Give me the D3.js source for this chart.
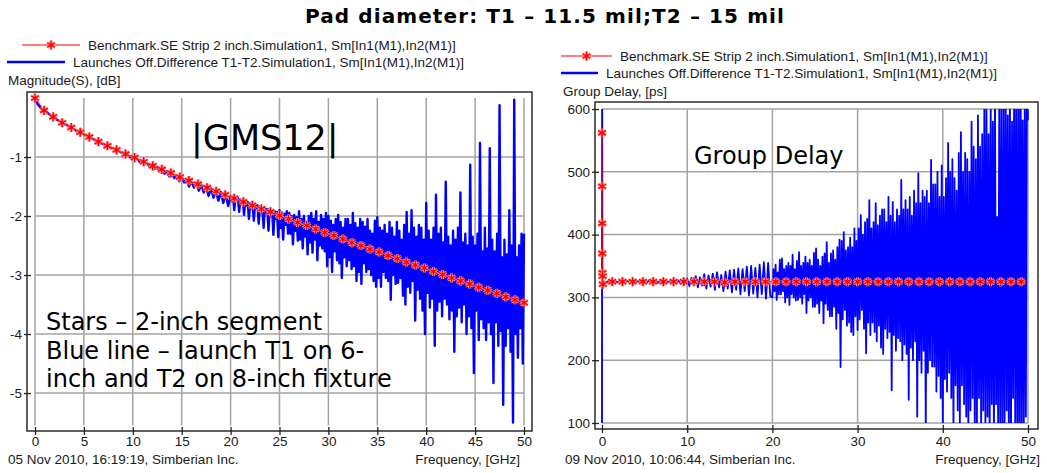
<!DOCTYPE html>
<html>
<head>
<meta charset="utf-8">
<script src="https://cdn.jsdelivr.net/npm/d3@7"></script>
<style>
  body { margin: 0; background: #fff; }
  text { font-family: "Liberation Sans", Arial, sans-serif; font-size: 13.5px; fill: #1a1a1a; }
  text.big { font-family: "DejaVu Sans", Verdana, sans-serif; fill: #000; }
  .axis .domain { display: none; }
  .axis line { stroke: #222; stroke-width: 1.3; }
</style>
</head>
<body>
<div id="app"></div>
<script>
// Left panel: |S21| magnitude, dB
const magTicksX = [0, 5, 10, 15, 20, 25, 30, 35, 40, 45, 50];
const magTicksY = [-1, -2, -3, -4, -5];
const magStarStep = 50 / 54; // GHz between benchmark stars
const magStars = [
  0, -0.21, -0.32, -0.42, -0.50, -0.58, -0.66, -0.74, -0.81, -0.88,
  -0.95, -1.01, -1.08, -1.15, -1.21, -1.27, -1.34, -1.40, -1.46, -1.52,
  -1.58, -1.64, -1.70, -1.76, -1.82, -1.88, -1.93, -1.99, -2.05, -2.11,
  -2.16, -2.22, -2.28, -2.33, -2.39, -2.45, -2.50, -2.56, -2.61, -2.67,
  -2.72, -2.78, -2.83, -2.88, -2.94, -2.99, -3.05, -3.10, -3.15, -3.21,
  -3.26, -3.31, -3.37, -3.42, -3.47
];
// launch difference, 0..19.75 GHz every 0.25 GHz
const magBlueLowStep = 0.25;
const magBlueLow = [
  0, -0.10, -0.15, -0.19,   -0.22, -0.25, -0.28, -0.31,   -0.34, -0.37, -0.39, -0.42,
  -0.44, -0.46, -0.49, -0.51,   -0.53, -0.56, -0.57, -0.59,   -0.61, -0.64, -0.66, -0.68,
  -0.70, -0.73, -0.74, -0.77,   -0.78, -0.81, -0.82, -0.85,   -0.85, -0.89, -0.89, -0.92,
  -0.93, -0.97, -0.97, -1.01,   -1.00, -1.04, -1.04, -1.09,   -1.07, -1.11, -1.11, -1.17,
  -1.14, -1.20, -1.17, -1.24,   -1.21, -1.28, -1.24, -1.33,   -1.28, -1.36, -1.31, -1.41,
  -1.34, -1.43, -1.38, -1.50,   -1.41, -1.52, -1.44, -1.57,   -1.47, -1.60, -1.51, -1.66,
  -1.53, -1.69, -1.57, -1.74,   -1.59, -1.78, -1.63, -1.83
];
// launch difference, 20..50 GHz every 0.125 GHz
const magBlueHighStart = 20;
const magBlueHighStep = 0.125;
const magBlueHigh = [
  -1.66, -1.75, -1.67, -1.90, -1.69, -1.72, -1.70, -1.93,
  -1.72, -1.80, -1.73, -1.98, -1.75, -1.82, -1.76, -2.05,
  -1.78, -1.88, -1.79, -2.08, -1.80, -1.86, -1.82, -2.13,
  -1.84, -1.95, -1.85, -2.20, -1.86, -1.94, -1.88, -2.25,
  -1.88, -2.00, -1.90, -2.32, -1.92, -2.05, -1.93, -2.36,
  -1.90, -2.20, -1.94, -2.40, -1.96, -2.15, -1.92, -2.30,
  -1.95, -2.30, -2.00, -2.48, -1.98, -2.25, -2.02, -2.42,
  -1.92, -2.40, -2.05, -2.55, -2.00, -2.35, -2.10, -2.65,
  -2.00, -2.45, -1.95, -2.62, -2.05, -2.40, -1.92, -2.75,
  -2.10, -2.50, -1.98, -2.55, -2.05, -2.60, -1.95, -2.85,
  -2.00, -2.70, -2.08, -2.95, -2.15, -2.60, -2.05, -2.75,
  -1.98, -2.80, -2.10, -3.05, -2.20, -2.70, -2.05, -2.85,
  -2.05, -2.75, -2.15, -2.90, -1.95, -2.85, -2.12, -3.10,
  -2.20, -2.95, -2.05, -3.15, -2.10, -2.80, -2.18, -2.95,
  -2.05, -2.90, -2.25, -3.00, -2.30, -3.10, -2.08, -3.20,
  -2.02, -3.05, -2.20, -3.20, -2.25, -2.95, -2.15, -3.05,
  -2.30, -3.10, -2.10, -3.42, -2.20, -3.00, -2.35, -3.15,
  -2.10, -3.13, -2.25, -3.05, -2.40, -3.35, -2.15, -3.50,
  -1.93, -3.20, -2.30, -3.30, -1.90, -3.10, -2.20, -3.77,
  -2.35, -3.25, -2.15, -3.40, -2.20, -3.60, -2.40, -4.00,
  -1.78, -3.30, -2.25, -3.55, -2.40, -3.40, -2.20, -4.20,
  -1.64, -3.60, -2.30, -3.45, -2.20, -3.70, -2.45, -3.40,
  -1.42, -3.50, -2.35, -3.75, -2.50, -3.60, -2.25, -4.30,
  -2.40, -3.70, -2.20, -3.55, -1.60, -3.80, -2.45, -3.50,
  -2.30, -4.00, -2.50, -3.70, -1.13, -3.90, -2.35, -4.66,
  -2.50, -3.60, -2.30, -4.10, -0.76, -3.75, -2.60, -3.90,
  -2.20, -4.10, -2.55, -3.80, -0.85, -4.00, -2.40, -4.83,
  -2.60, -3.80, -2.30, -4.20, -0.12, -3.95, -2.70, -5.20,
  -2.40, -4.20, -2.65, -3.90, -1.90, -4.30, -2.50, -5.50,
  -0.03, -4.00, -2.70, -4.40, -2.50, -3.90, -2.30, -4.50,
  -2.30
];

// Right panel: group delay, ps
const gdTicksX = [0, 10, 20, 30, 40, 50];
const gdTicksY = [100, 200, 300, 400, 500, 600];
const gdStarFreq = [
  0, 0.01, 0.02, 0.03, 0.05, 0.07, 0.1,
  1.2, 2.4, 3.6, 4.8, 6, 7.2, 8.4, 9.6, 10.8, 12, 13.2, 14.4, 15.6, 16.8,
  18, 19.2, 20.4, 21.6, 22.8, 24, 25.2, 26.4, 27.6, 28.8, 30, 31.2, 32.4,
  33.6, 34.8, 36, 37.2, 38.4, 39.6, 40.8, 42, 43.2, 44.4, 45.6, 46.8, 48, 49.2
];
const gdStars = [
  562, 477, 418, 370, 339, 334, 321,
  325, 325, 325, 325, 325, 325, 325, 325, 325, 325, 325, 324, 325, 325,
  325, 325, 325, 325, 325, 325, 325, 325, 325, 325, 325, 325, 325,
  325, 325, 325, 325, 325, 325, 325, 325, 325, 325, 325, 325, 325, 325
];
const gdSpikeFreq = [0, 0.02, 0.05];
const gdSpike = [60, 640, 325];
// launch difference, 0.25..19.75 GHz every 0.25 GHz
const gdBlueLowStart = 0.25;
const gdBlueLowStep = 0.25;
const gdBlueLow = [
  325, 324, 326, 325,   325, 326, 324, 325,   326, 324, 325, 326,   324, 326, 325, 324,
  326, 323, 326, 325,   323, 327, 324, 326,   327, 323, 326, 324,   322, 328, 324, 327,
  323, 328, 322, 327,   321, 329, 323, 330,   318, 331, 320, 334,   316, 332, 319, 337,
  314, 335, 317, 338,   312, 340, 316, 336,   310, 341, 314, 343,   308, 344, 312, 346,
  305, 345, 310, 349,   303, 350, 306, 347,   300, 352, 305, 356,   298, 355, 302
];
// launch difference, 20..50 GHz every 0.125 GHz
const gdBlueHighStart = 20;
const gdBlueHighStep = 0.125;
const gdBlueHigh = [
  300, 345, 310, 352, 296, 340, 305, 360,
  305, 362, 310, 345, 292, 350, 300, 355,
  288, 350, 305, 368, 300, 345, 295, 358,
  296, 372, 300, 350, 290, 355, 305, 365,
  275, 355, 295, 360, 300, 350, 285, 371,
  285, 378, 290, 360, 275, 350, 295, 365,
  259, 370, 290, 388, 280, 355, 270, 370,
  270, 375, 285, 360, 250, 380, 275, 392,
  189, 390, 265, 404, 280, 375, 255, 380,
  260, 395, 245, 380, 240, 410, 270, 390,
  248, 410, 265, 431, 280, 400, 250, 420,
  211, 425, 260, 455, 240, 410, 260, 420,
  245, 450, 230, 415, 255, 430, 220, 440,
  210, 440, 250, 420, 235, 460, 245, 430,
  152, 452, 240, 420, 215, 440, 235, 430,
  230, 487, 200, 440, 225, 455, 210, 440,
  137, 460, 220, 430, 200, 470, 230, 450,
  110, 498, 200, 450, 180, 470, 215, 460,
  90, 470, 180, 450, 200, 519, 190, 480,
  190, 480, 150, 500, 175, 460, 140, 510,
  85, 460, 170, 490, 150, 546, 180, 500,
  140, 520, 90, 490, 160, 470, 120, 530,
  95, 563, 160, 500, 130, 530, 110, 520,
  80, 500, 120, 580, 140, 540, 100, 520,
  70, 590, 140, 540, 90, 560, 120, 600,
  90, 620, 110, 560, 70, 610, 130, 580,
  60, 640, 130, 428, 80, 620, 100, 600,
  75, 610, 85, 650, 120, 590, 60, 640,
  50, 580, 140, 660, 90, 620, 70, 610,
  40, 700, 90, 582, 60, 640, 110, 650,
  582
];

const svg = d3.select('#app').append('svg').attr('width', 1047).attr('height', 473);

svg.append('text')
  .attr('class', 'big')
  .attr('x', 545).attr('y', 23)
  .attr('text-anchor', 'middle')
  .attr('font-weight', 'bold')
  .style('font-size', '20px')
  .style('letter-spacing', '1.1px')
  .text('Pad diameter: T1 \u2013 11.5 mil;T2 \u2013 15 mil');

const starPath = d3.symbol(d3.symbolAsterisk, 58)();

function drawStars(g, pts) {
  const s = g.selectAll('g.star').data(pts).join('g')
    .attr('class', 'star')
    .attr('transform', (d) => `translate(${d[0]},${d[1]})`);
  s.append('path').attr('d', starPath).attr('fill', 'none')
    .attr('stroke', '#ff8c8c').attr('stroke-width', 3);
  s.append('path').attr('d', starPath).attr('fill', 'none')
    .attr('stroke', 'red').attr('stroke-width', 1.3);
  s.append('circle').attr('r', 1.6).attr('fill', 'red');
}

function legend(x, y, redX, blueX, yLabel) {
  const g = svg.append('g');
  const names = [
    'Benchmark.SE Strip 2 inch.Simulation1, Sm[In1(M1),In2(M1)]',
    'Launches Off.Difference T1-T2.Simulation1, Sm[In1(M1),In2(M1)]'
  ];
  g.append('line').attr('x1', redX[0]).attr('x2', redX[1])
    .attr('y1', y).attr('y2', y).attr('stroke', 'red').attr('stroke-width', 1.2);
  drawStars(g.append('g'), [[(redX[0] + redX[1]) / 2, y]]);
  g.append('text').attr('x', redX[1] + 8).attr('y', y + 4.5).text(names[0]);
  g.append('line').attr('x1', blueX[0]).attr('x2', blueX[1])
    .attr('y1', y + 17).attr('y2', y + 17).attr('stroke', 'blue').attr('stroke-width', 2.5);
  g.append('text').attr('x', blueX[1] + 8).attr('y', y + 21.5).text(names[1]);
  g.append('text').attr('x', x).attr('y', y + 39.5).text(yLabel);
}

function panel(o) {
  const g = svg.append('g');
  const [x0, x1] = o.x.range();
  const [y0, y1] = o.y.range();
  const f = o.frame;

  // grid
  g.append('g').selectAll('line').data(o.ticksX).join('line')
    .attr('x1', (d) => o.x(d)).attr('x2', (d) => o.x(d))
    .attr('y1', y0).attr('y2', y1)
    .attr('stroke', '#a3a3a3').attr('stroke-width', 1.5);
  g.append('g').selectAll('line').data(o.gridY).join('line')
    .attr('x1', x0).attr('x2', x1)
    .attr('y1', (d) => o.y(d)).attr('y2', (d) => o.y(d))
    .attr('stroke', '#a3a3a3').attr('stroke-width', 1.5);

  // annotations
  o.notes.forEach((n) => {
    g.append('text').attr('class', 'big')
      .attr('x', n.x).attr('y', n.y)
      .style('font-size', n.size + 'px')
      .text(n.text);
  });

  // data
  const clipId = 'clip' + o.id;
  svg.append('clipPath').attr('id', clipId).append('rect')
    .attr('x', f.x0 + 1).attr('y', o.clipY[0])
    .attr('width', f.x1 - f.x0 - 2).attr('height', o.clipY[1] - o.clipY[0]);
  const data = g.append('g').attr('clip-path', `url(#${clipId})`);
  const line = d3.line().x((d) => o.x(d[0])).y((d) => o.y(d[1]));

  data.append('path').datum(o.blue).attr('d', line)
    .attr('fill', 'none').attr('stroke', 'blue')
    .attr('stroke-width', o.blueWidth).attr('stroke-linejoin', 'round');
  data.append('path').datum(o.stars).attr('d', line)
    .attr('fill', 'none').attr('stroke', 'red').attr('stroke-width', 1);
  drawStars(data.append('g'), o.stars.map((d) => [o.x(d[0]), o.y(d[1])]));

  // frame
  g.append('rect')
    .attr('x', f.x0).attr('y', f.y0)
    .attr('width', f.x1 - f.x0).attr('height', f.y1 - f.y0)
    .attr('fill', 'none').attr('stroke', '#2b2b2b').attr('stroke-width', 1.5);

  // axes
  const ax = g.append('g').attr('class', 'axis')
    .attr('transform', `translate(0,${f.y1 - 4})`)
    .call(d3.axisBottom(o.x).tickValues(o.ticksX).tickSize(8).tickPadding(o.padX)
      .tickFormat((d) => String(d)));
  ax.attr('font-size', null).attr('font-family', null);
  const ay = g.append('g').attr('class', 'axis')
    .attr('transform', `translate(${f.x0 + 4},0)`)
    .call(d3.axisLeft(o.y).tickValues(o.ticksY).tickSize(7).tickPadding(2)
      .tickFormat((d) => String(d)));
  ay.attr('font-size', null).attr('font-family', null);

  // footer
  g.append('text').attr('x', o.stampX).attr('y', 464).text(o.stamp);
  g.append('text').attr('x', o.unitEnd).attr('y', 464)
    .attr('text-anchor', 'end').text('Frequency, [GHz]');
}

// left panel
const xL = d3.scaleLinear().domain([0, 50]).range([35, 524]);
const yL = d3.scaleLinear().domain([0, -5.55]).range([98, 425.5]);
legend(8, 45, [22, 80], [7, 65], 'Magnitude(S), [dB]');
panel({
  id: 'L', x: xL, y: yL,
  frame: { x0: 27, x1: 532, y0: 92, y1: 431 },
  clipY: [93, 430],
  ticksX: magTicksX, ticksY: magTicksY, gridY: magTicksY, padX: 1,
  blue: magBlueLow.map((v, i) => [i * magBlueLowStep, v])
    .concat(magBlueHigh.map((v, i) => [magBlueHighStart + i * magBlueHighStep, v])),
  blueWidth: 2.4,
  stars: magStars.map((v, i) => [i * magStarStep, v]),
  notes: [
    { text: '|GMS12|', x: 191, y: 150, size: 35 },
    { text: 'Stars \u2013 2-inch segment', x: 46, y: 330, size: 24 },
    { text: 'Blue line \u2013 launch T1 on 6-', x: 46, y: 358.5, size: 24 },
    { text: 'inch and T2 on 8-inch fixture', x: 46, y: 387, size: 24 }
  ],
  stamp: '05 Nov 2010, 16:19:19, Simberian Inc.', stampX: 8, unitEnd: 520
});

// right panel
const xR = d3.scaleLinear().domain([0, 50]).range([602, 1028]);
const yR = d3.scaleLinear().domain([100, 600]).range([423, 109]);
legend(563, 56, [561, 612], [561, 598], 'Group Delay, [ps]');
panel({
  id: 'R', x: xR, y: yR,
  frame: { x0: 595, x1: 1038, y0: 102, y1: 429 },
  clipY: [109, 423],
  ticksX: gdTicksX, ticksY: gdTicksY, gridY: gdTicksY, padX: 3,
  blue: gdSpike.map((v, i) => [gdSpikeFreq[i], v])
    .concat(gdBlueLow.map((v, i) => [gdBlueLowStart + i * gdBlueLowStep, v]))
    .concat(gdBlueHigh.map((v, i) => [gdBlueHighStart + i * gdBlueHighStep, v])),
  blueWidth: 1.8,
  stars: gdStars.map((v, i) => [gdStarFreq[i], v]),
  notes: [
    { text: 'Group Delay', x: 694, y: 164, size: 24 }
  ],
  stamp: '09 Nov 2010, 10:06:44, Simberian Inc.', stampX: 565, unitEnd: 1040
});
</script>
</body>
</html>
